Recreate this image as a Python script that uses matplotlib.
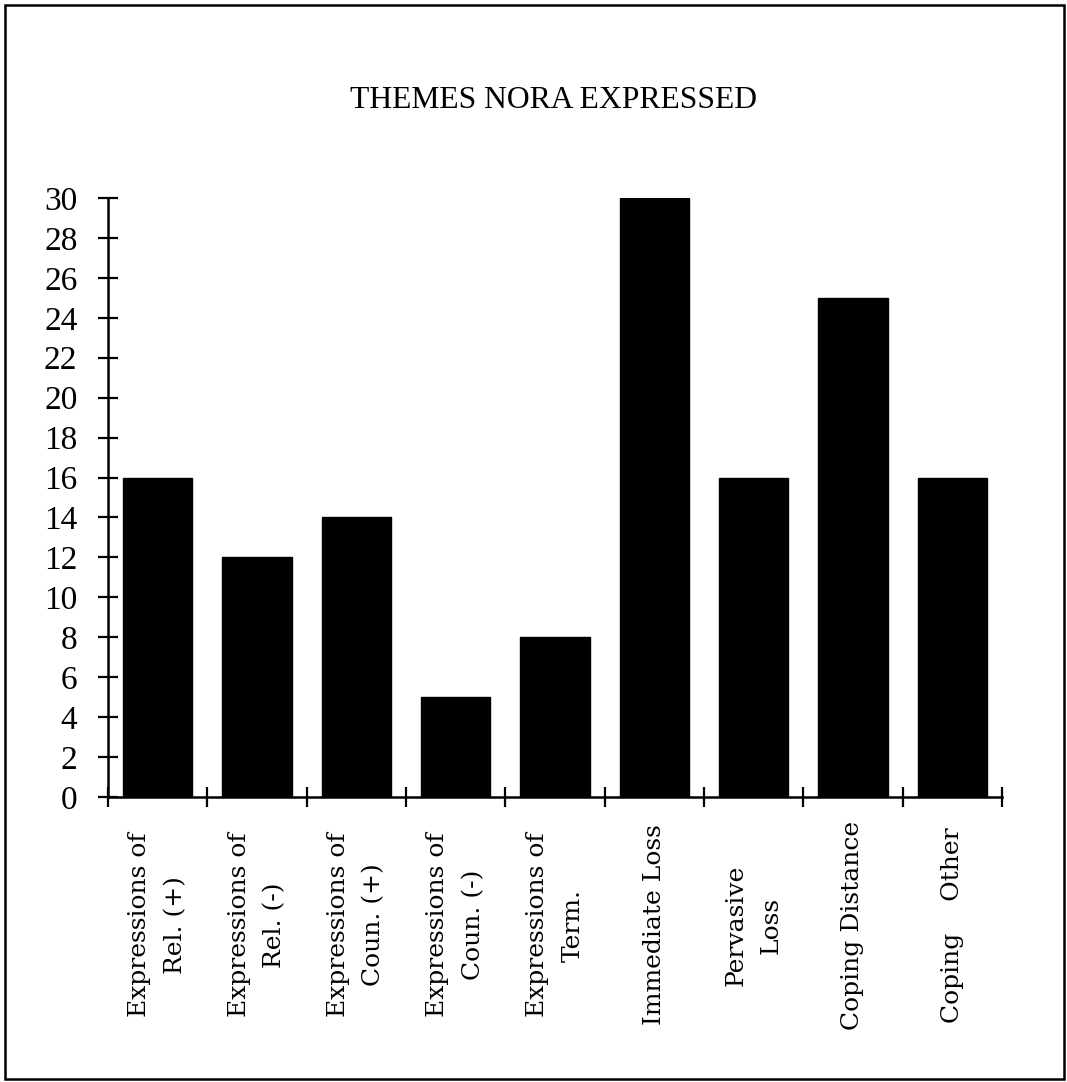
import matplotlib
matplotlib.use("Agg")
import matplotlib.pyplot as plt
from matplotlib.patches import Rectangle
from matplotlib.transforms import blended_transform_factory

categories = [
    "Expressions of\nRel. (+)",
    "Expressions of\nRel. (-)",
    "Expressions of\nCoun. (+)",
    "Expressions of\nCoun. (-)",
    "Expressions of\nTerm.",
    "Immediate Loss",
    "Pervasive\nLoss",
    "Coping Distance",
    "Coping    Other",
]
counts = [16, 12, 14, 5, 8, 30, 16, 25, 16]
y_ticks = list(range(0, 31, 2))
title = "THEMES NORA EXPRESSED"

W, H = 1067, 1082
fig = plt.figure(figsize=(W / 100, H / 100), dpi=100)
fig.patch.set_facecolor("white")

# outer frame around the whole chart
fig.add_artist(Rectangle((5 / W, 3 / H), (W - 8) / W, (H - 8) / H,
                         transform=fig.transFigure, fill=False,
                         edgecolor="black", linewidth=1.8))

left, right, top, bottom = 108, 1002, 198, 797
ax = fig.add_axes([left / W, 1 - bottom / H, (right - left) / W, (bottom - top) / H])

x = list(range(len(categories)))
ax.bar(x, counts, width=0.7, color="black", edgecolor="black")

ax.set_xlim(-0.5, len(categories) - 0.5)
ax.set_ylim(0, 30)
for s in ("top", "right"):
    ax.spines[s].set_visible(False)
for s in ("left", "bottom"):
    ax.spines[s].set_linewidth(1.8)
    ax.spines[s].set_clip_on(False)

ax.set_yticks(y_ticks)
ax.set_yticklabels([str(v) for v in y_ticks], fontfamily="Liberation Serif", fontsize=24)
ax.set_xticks([i - 0.5 for i in range(len(categories) + 1)])
ax.set_xticklabels([])
ax.tick_params(axis="both", direction="inout", length=14, width=1.6, color="black")
ax.tick_params(axis="y", pad=15)
for t in ax.yaxis.get_major_ticks() + ax.xaxis.get_major_ticks():
    t.tick1line.set_clip_on(False)

trans = blended_transform_factory(ax.transData, fig.transFigure)
for i, lab in enumerate(categories):
    ax.text(i, 1 - 925 / H, lab, rotation=90, ha="center", va="center",
            multialignment="center", transform=trans, fontfamily="DejaVu Serif",
            fontsize=18, linespacing=1.7)

fig.text(554 / W, 1 - 101 / H, title, ha="center", va="center",
         fontfamily="Liberation Serif", fontsize=22.8)

fig.savefig("out.png", dpi=100, facecolor="white")
